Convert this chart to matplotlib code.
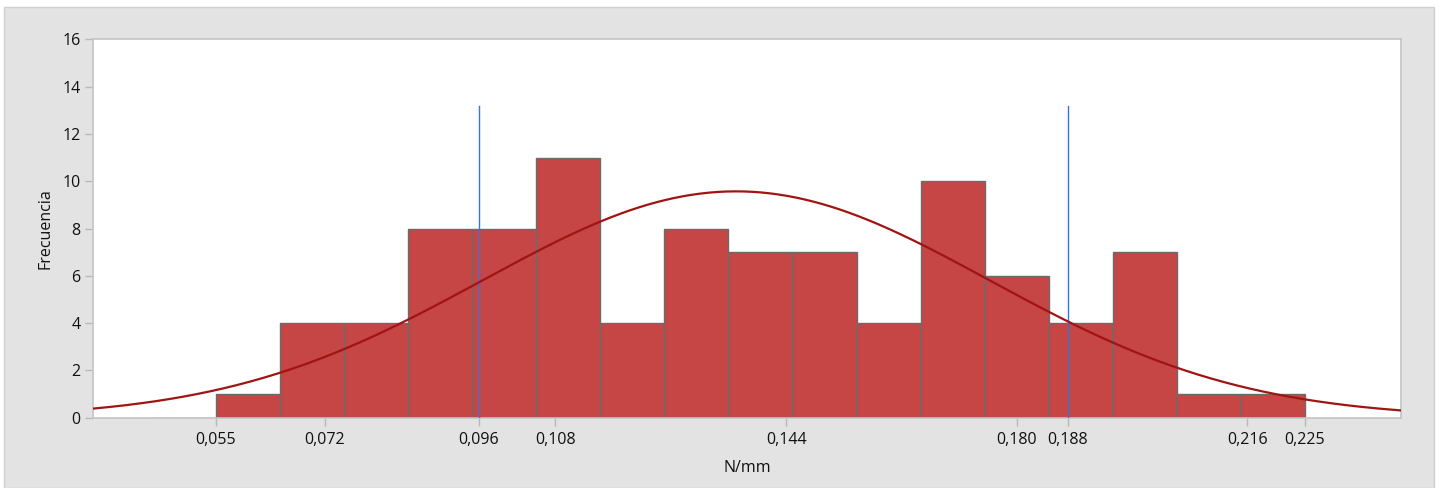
import numpy as np
import matplotlib
matplotlib.use("Agg")
import matplotlib.pyplot as plt
from matplotlib.patches import Rectangle

# Histogram bins (N/mm) and frequencies
bin_start = 0.045
bin_width = 0.01
counts = [0, 1, 4, 4, 8, 8, 11, 4, 8, 7, 7, 4, 10, 6, 4, 7, 1, 1]

# Fitted normal distribution
fit_mean = 0.1362
fit_sd = 0.0396

# Reference lines
ref_lines = [0.096, 0.188]
ref_height = 13.2

# Axis ticks
x_ticks = [0.055, 0.072, 0.096, 0.108, 0.144, 0.180, 0.188, 0.216, 0.225]
x_ticklabels = ["0,055", "0,072", "0,096", "0,108", "0,144", "0,180", "0,188", "0,216", "0,225"]
y_ticks = [0, 2, 4, 6, 8, 10, 12, 14, 16]

plt.rcParams["font.family"] = ["Open Sans", "DejaVu Sans"]

W, H = 1442, 488
fig = plt.figure(figsize=(W / 100, H / 100), dpi=100)
fig.patch.set_facecolor("white")

# Grey panel behind the plot
fig.patches.append(Rectangle((4 / W, 0), 1430 / W, 1 - 7 / H, transform=fig.transFigure,
                             facecolor="#e3e3e3", edgecolor="#d0d0d0", linewidth=1.0, zorder=-5))

ax = fig.add_axes([93 / W, 1 - 417.7 / H, (1401 - 93) / W, (417.7 - 39.3) / H])
ax.set_zorder(2)
ax.set_facecolor("white")

edges = bin_start + bin_width * np.arange(len(counts) + 1)
ax.bar(edges[:-1], counts, width=bin_width, align="edge", color="#c64545",
       edgecolor="#6b6b6b", linewidth=1.0, zorder=2)

xs = np.linspace(0.0358, 0.2400, 600)
n_total = sum(counts)
pdf = np.exp(-0.5 * ((xs - fit_mean) / fit_sd) ** 2) / (fit_sd * np.sqrt(2 * np.pi))
ax.plot(xs, n_total * bin_width * pdf, color="#a01414", linewidth=1.6, zorder=4)

for v in ref_lines:
    ax.plot([v, v], [0, ref_height], color="#3a72d6", linewidth=1.0, zorder=3)

ax.set_xlim(0.0358, 0.2400)
ax.set_ylim(0, 16)
ax.set_xticks(x_ticks)
ax.set_xticklabels(x_ticklabels)
ax.set_yticks(y_ticks)

for s in ax.spines.values():
    s.set_color("#c4c4c4")
    s.set_linewidth(1.2)
ax.tick_params(axis="both", colors="#b8b8b8", labelcolor="#111111", labelsize=11.5, length=6, width=1.0)
ax.tick_params(axis="x", pad=4)
ax.tick_params(axis="y", pad=3)

ax.set_xlabel("N/mm", fontsize=11.5, color="#111111", labelpad=9)
ax.set_ylabel("Frecuencia", fontsize=11.5, color="#111111", labelpad=6)

fig.savefig("out.png", dpi=100, facecolor=fig.get_facecolor())
